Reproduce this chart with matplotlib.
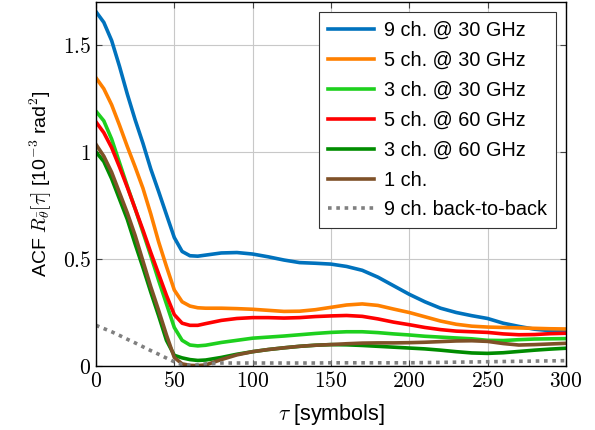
import matplotlib
matplotlib.use("Agg")
import matplotlib.pyplot as plt
from matplotlib.ticker import FuncFormatter

plt.rcParams['font.family'] = ['Liberation Sans', 'DejaVu Sans']
plt.rcParams['mathtext.fontset'] = 'cm'

tau = [0, 5, 10, 15, 20, 25, 30, 35, 40, 45, 50, 55, 60, 65, 70,
       80, 90, 100, 110, 120, 130, 140, 150, 160, 170, 180, 190, 200,
       210, 220, 230, 240, 250, 260, 270, 280, 290, 300]

ch9_30 = [1.655, 1.605, 1.52, 1.40, 1.27, 1.15, 1.04, 0.92, 0.815, 0.707, 0.60, 0.535, 0.515, 0.513, 0.518,
          0.528, 0.53, 0.523, 0.51, 0.495, 0.483, 0.48, 0.476, 0.465, 0.447, 0.415, 0.375, 0.335,
          0.30, 0.27, 0.25, 0.235, 0.222, 0.20, 0.185, 0.172, 0.165, 0.16]
ch5_30 = [1.346, 1.295, 1.22, 1.125, 1.025, 0.93, 0.83, 0.71, 0.58, 0.465, 0.355, 0.30, 0.28, 0.272, 0.27,
          0.27, 0.268, 0.265, 0.26, 0.255, 0.256, 0.263, 0.274, 0.285, 0.29, 0.283, 0.266, 0.25,
          0.23, 0.21, 0.195, 0.186, 0.182, 0.18, 0.178, 0.176, 0.174, 0.173]
ch3_30 = [1.19, 1.145, 1.06, 0.95, 0.84, 0.735, 0.625, 0.515, 0.40, 0.29, 0.18, 0.12, 0.098, 0.094, 0.097,
          0.11, 0.12, 0.13, 0.135, 0.14, 0.146, 0.152, 0.157, 0.16, 0.16, 0.156, 0.15, 0.145,
          0.139, 0.135, 0.131, 0.127, 0.12, 0.119, 0.123, 0.126, 0.127, 0.128]
ch5_60 = [1.14, 1.09, 1.02, 0.93, 0.835, 0.735, 0.635, 0.53, 0.43, 0.33, 0.24, 0.20, 0.19, 0.19, 0.198,
          0.213, 0.222, 0.226, 0.226, 0.224, 0.226, 0.231, 0.234, 0.236, 0.232, 0.22, 0.205, 0.193,
          0.18, 0.17, 0.163, 0.16, 0.157, 0.15, 0.146, 0.147, 0.151, 0.153]
ch3_60 = [1.0, 0.955, 0.875, 0.78, 0.685, 0.57, 0.46, 0.345, 0.235, 0.12, 0.05, 0.038, 0.03, 0.026, 0.028,
          0.04, 0.055, 0.067, 0.077, 0.085, 0.092, 0.097, 0.10, 0.099, 0.096, 0.092, 0.088, 0.084,
          0.08, 0.074, 0.067, 0.061, 0.059, 0.062, 0.068, 0.074, 0.079, 0.083]
ch1 = [1.035, 0.98, 0.905, 0.81, 0.715, 0.61, 0.49, 0.37, 0.26, 0.145, 0.04, 0.01, 0.003, 0.002, 0.005,
       0.03, 0.052, 0.067, 0.077, 0.085, 0.092, 0.097, 0.10, 0.104, 0.107, 0.108, 0.108, 0.109,
       0.111, 0.114, 0.117, 0.118, 0.115, 0.105, 0.098, 0.10, 0.103, 0.106]
ch9_b2b = [0.19, 0.175, 0.16, 0.143, 0.125, 0.108, 0.09, 0.072, 0.055, 0.037, 0.02, 0.006, 0.003, 0.005, 0.01,
           0.014, 0.014, 0.014, 0.014, 0.014, 0.014, 0.014, 0.015, 0.015, 0.015, 0.015, 0.015, 0.015,
           0.016, 0.017, 0.018, 0.019, 0.02, 0.021, 0.022, 0.023, 0.024, 0.025]

labels = ["9 ch. @ 30 GHz", "5 ch. @ 30 GHz", "3 ch. @ 30 GHz", "5 ch. @ 60 GHz",
          "3 ch. @ 60 GHz", "1 ch.", "9 ch. back-to-back"]
colors = ["#0072BD", "#FF8000", "#1ED01E", "#FF0000", "#008C00", "#7F5128", "#808080"]

fig = plt.figure(figsize=(5.95, 4.30), dpi=100)
ax = fig.add_axes([0.1613, 0.1488, 0.7897, 0.8465])

series = [ch9_30, ch5_30, ch3_30, ch5_60, ch3_60, ch1]
for s, lab, c in zip(series, labels[:6], colors[:6]):
    ax.plot(tau, s, color=c, lw=2.6, label=lab, solid_joinstyle='round')
ax.plot(tau, ch9_b2b, color=colors[6], lw=2.6, ls=(0, (1.0, 1.3)), label=labels[6])

ax.set_xlim(0, 300)
ax.set_ylim(0, 1.7)
ax.set_xticks([0, 50, 100, 150, 200, 250, 300])
ax.set_yticks([0, 0.5, 1, 1.5])
ax.xaxis.set_major_formatter(FuncFormatter(lambda v, p: r"$%g$" % v))
ax.yaxis.set_major_formatter(FuncFormatter(lambda v, p: r"$%g$" % v))
ax.tick_params(direction='in', top=True, right=True, labelsize=15.5, length=4, color='#444444')
ax.grid(True, color='#c8c8c8', lw=0.8)
for sp in ax.spines.values():
    sp.set_linewidth(1.0)

ax.set_xlabel(r"$\tau$ [symbols]", fontsize=15.5, labelpad=7)
ax.set_ylabel(r"ACF $R_{\bar{\theta}}[\tau]$ [10$^{\mathsf{-3}}$ rad$^{\mathsf{2}}$]", fontsize=14, labelpad=6)

leg = ax.legend(loc='upper right', fontsize=14.3, fancybox=False, framealpha=1,
                edgecolor='#333333', handlelength=2.3, borderaxespad=0.5,
                labelspacing=0.55, handletextpad=0.5, borderpad=0.45)
leg.get_frame().set_linewidth(0.8)

fig.savefig("out.png", dpi=100)
